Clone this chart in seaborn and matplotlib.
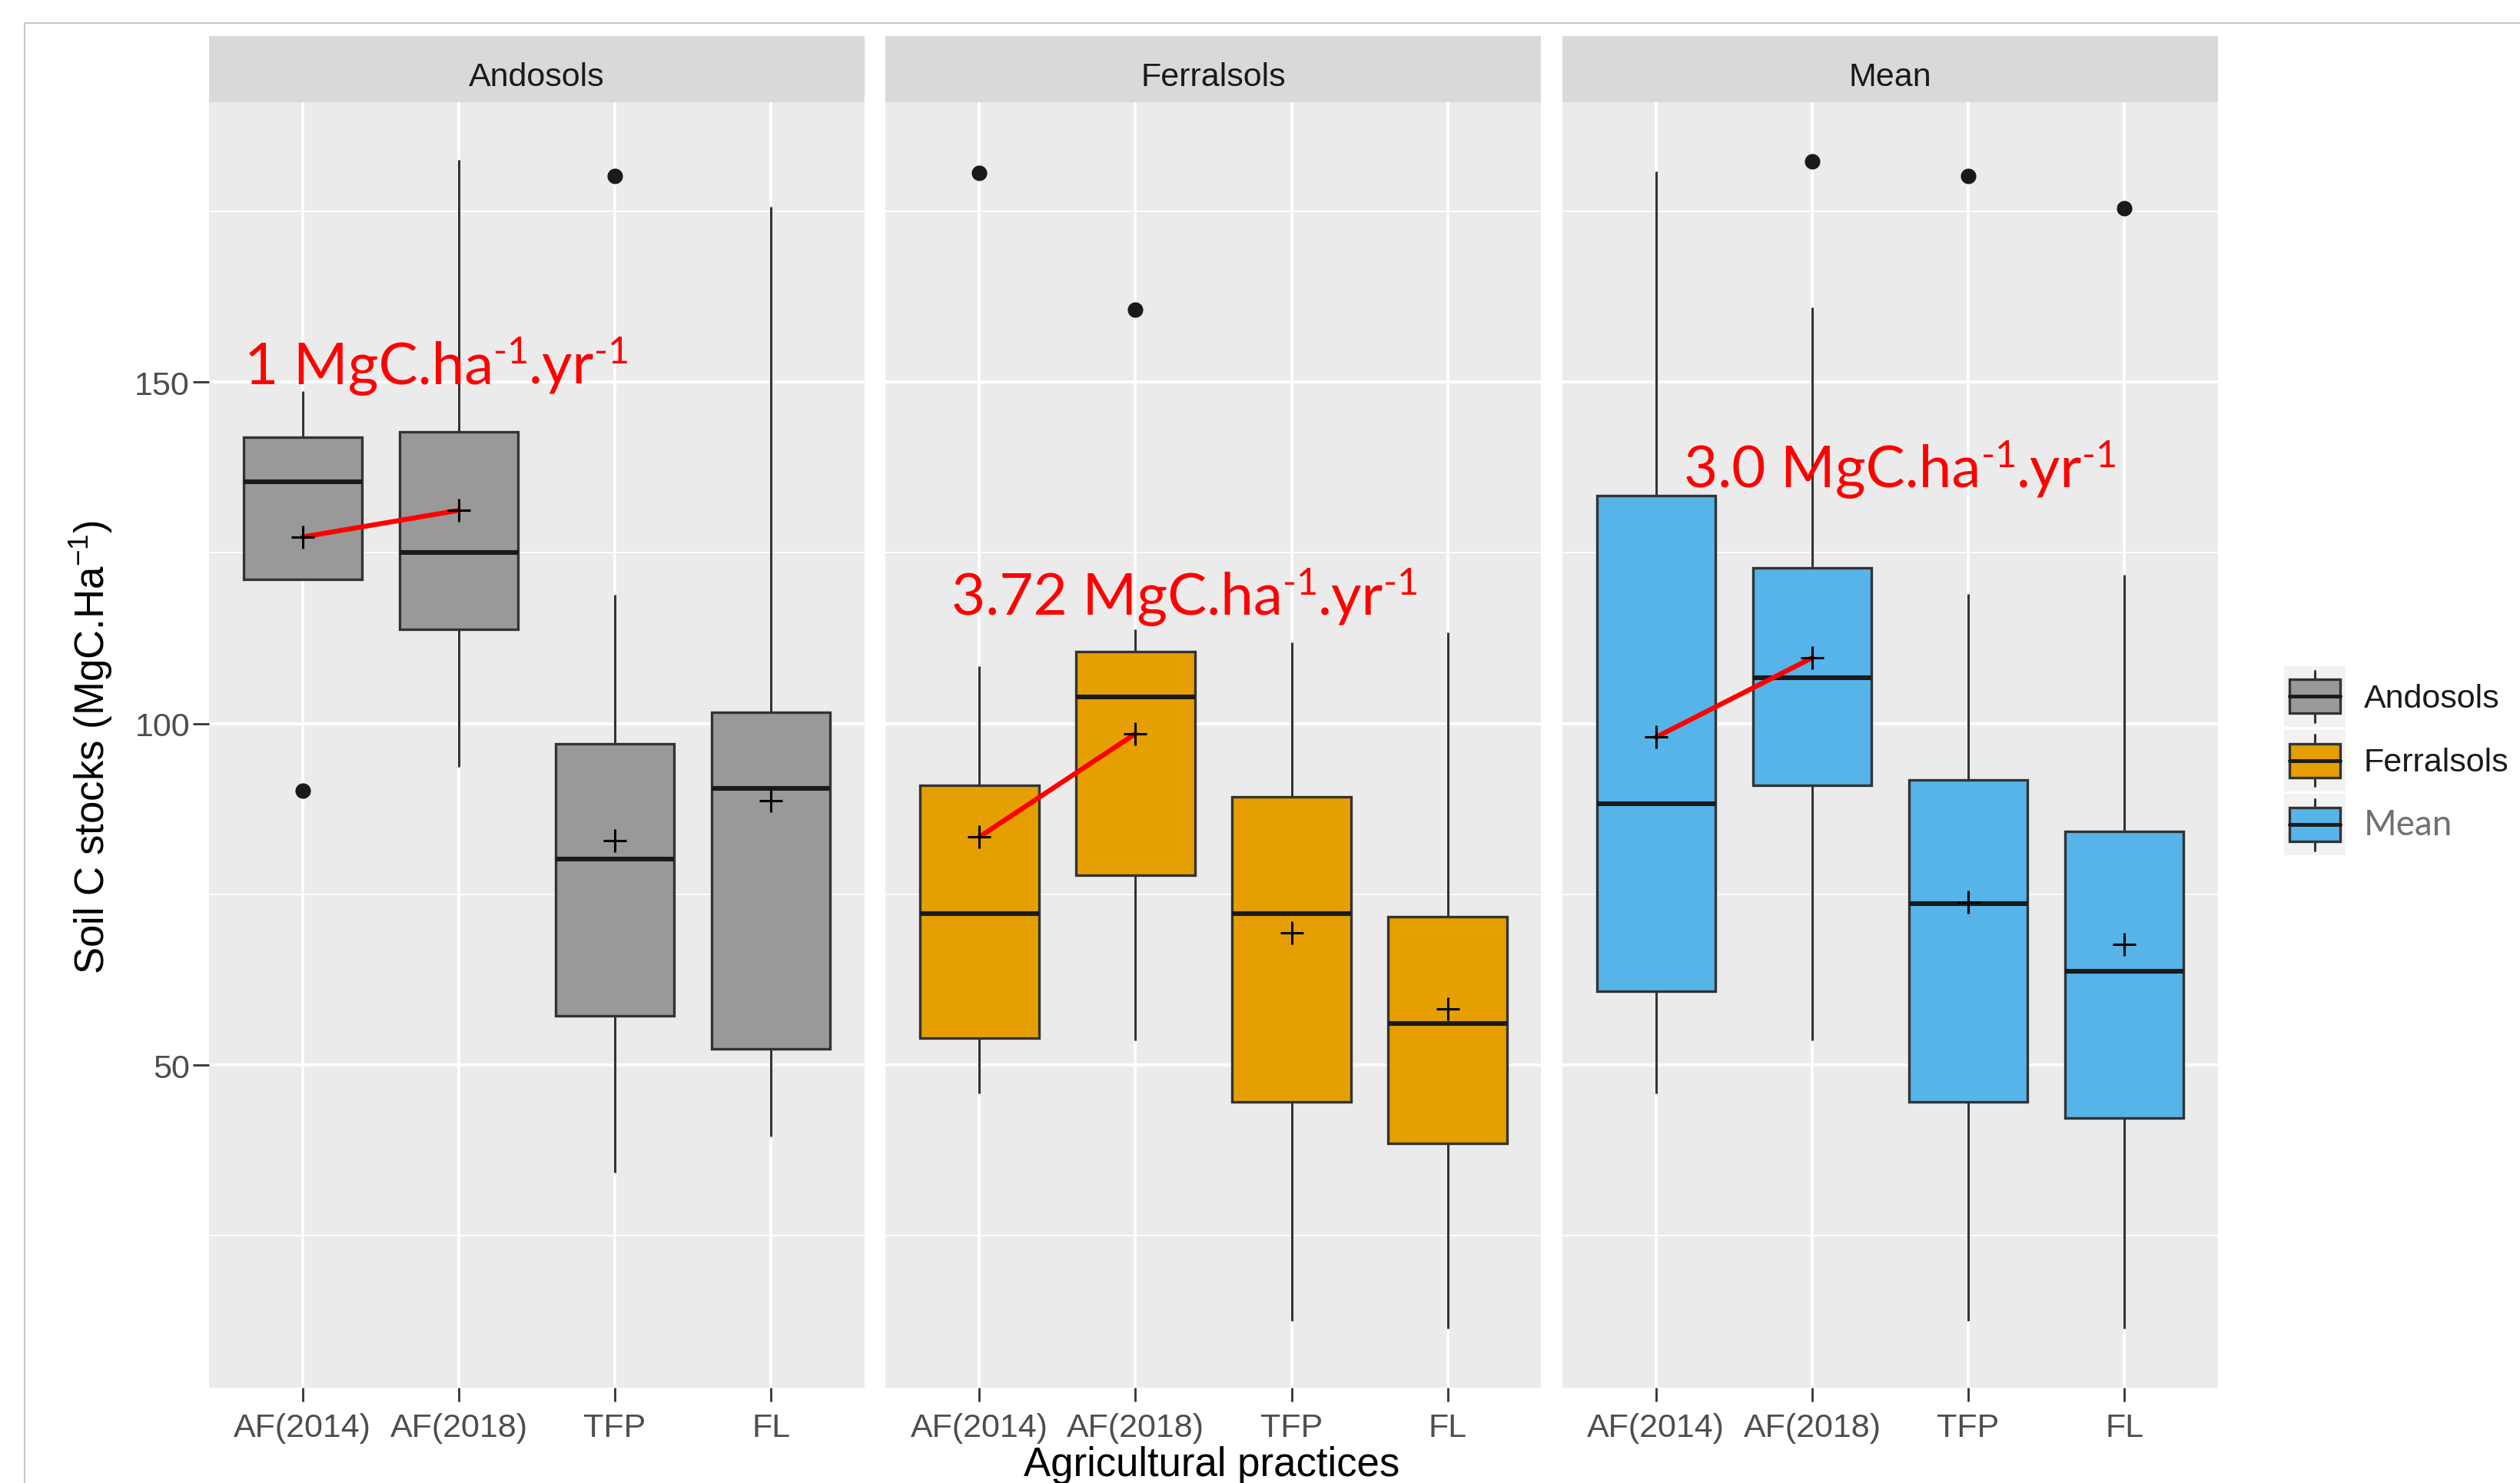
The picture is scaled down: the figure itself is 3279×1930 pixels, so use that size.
import numpy as np
import pandas as pd
import matplotlib
matplotlib.use("Agg")
import matplotlib.pyplot as plt
import seaborn as sns
from matplotlib.patches import Rectangle
from matplotlib.lines import Line2D
from matplotlib.legend_handler import HandlerBase
from matplotlib.ticker import FixedLocator

# ---------------- data ----------------
soils = ["Andosols", "Ferralsols", "Mean"]
practices = ["AF(2014)", "AF(2018)", "TFP", "FL"]
soil_colors = ["#999999", "#E69F00", "#56B4E9"]

whisker_low = [[121.1, 93.6, 34.3, 39.6],
               [45.8, 53.6, 12.6, 11.4],
               [45.8, 53.6, 12.6, 11.4]]
q1 = [[121.1, 113.8, 57.2, 52.4],
      [54.0, 77.8, 44.6, 38.5],
      [60.8, 91.0, 44.6, 42.2]]
median = [[135.4, 125.0, 80.2, 90.5],
          [72.2, 103.9, 72.2, 56.1],
          [88.2, 106.7, 73.6, 63.7]]
q3 = [[141.9, 142.7, 97.0, 101.6],
      [91.0, 110.5, 89.3, 71.7],
      [133.3, 122.8, 91.7, 84.2]]
whisker_high = [[148.6, 182.5, 118.8, 175.7],
                [108.4, 113.8, 111.9, 113.3],
                [180.8, 160.9, 119.0, 121.8]]
means = [[127.3, 131.2, 82.9, 88.7],
         [83.4, 98.5, 69.3, 58.2],
         [98.0, 109.6, 73.8, 67.7]]

outlier_soil = ["Andosols", "Andosols", "Ferralsols", "Ferralsols", "Mean", "Mean", "Mean"]
outlier_practice = ["AF(2014)", "TFP", "AF(2014)", "AF(2018)", "AF(2018)", "TFP", "FL"]
outlier_value = [90.2, 180.2, 180.6, 160.6, 182.3, 180.2, 175.4]

rate_values = ["1", "3.72", "3.0"]
y_ticks = [50, 100, 150]
y_minor = [25, 75, 125, 175]

# ---------------- tables ----------------
box_rows = []
for i, soil in enumerate(soils):
    for j, p in enumerate(practices):
        for v in (whisker_low[i][j], q1[i][j], median[i][j], q3[i][j], whisker_high[i][j]):
            box_rows.append({"soil": soil, "practice": p, "value": v})
box_df = pd.DataFrame(box_rows)
mean_df = pd.DataFrame([{"soil": s, "practice": p, "mean": means[i][j]}
                        for i, s in enumerate(soils) for j, p in enumerate(practices)])
out_df = pd.DataFrame({"soil": outlier_soil, "practice": outlier_practice, "value": outlier_value})

# ---------------- style ----------------
sns.set_theme(style="darkgrid")
plt.rcParams["font.family"] = ["Liberation Sans", "DejaVu Sans"]
plt.rcParams["axes.facecolor"] = "#EBEBEB"
plt.rcParams["grid.color"] = "white"

W, H = 3280, 1931
fig = plt.figure(figsize=(W / 100, H / 100), dpi=100)
fig.patch.set_facecolor("white")

panel_left = [272, 1152.5, 2033]
panel_w = 853
panel_top, panel_bot = 133.5, 1806.7
strip_top = 48
strip_h = (panel_bot - panel_top)
strip_frac = (panel_top - strip_top) / strip_h
text_base = (panel_top - 111.5) / strip_h

# annotation placement (layout only): (x in category units, y in data units)
rate_pos = [(-0.375, 149.8), (-0.18, 116.0), (0.18, 134.7)]
rate_font = 55
sup_font = 35
sup_raise = 19  # points

tick_size = 31
edge = "#333333"

for i, soil in enumerate(soils):
    ax = fig.add_axes([panel_left[i] / W, 1 - panel_bot / H, panel_w / W, strip_h / H])
    ax.set_facecolor("#EBEBEB")
    sub = box_df[box_df["soil"] == soil]
    n_lines = len(ax.lines)
    sns.boxplot(data=sub, x="practice", y="value", order=practices, color=soil_colors[i],
                saturation=1, whis=(0, 100), width=0.76, linecolor=edge, linewidth=2.4,
                showfliers=False, ax=ax,
                medianprops={"color": "#1A1A1A", "linewidth": 4.4},
                whiskerprops={"color": edge, "linewidth": 2.2},
                capprops={"visible": False})
    # enforce ggplot-like line weights on the seaborn box artists
    for p in ax.patches:
        p.set_linewidth(2.4)
        p.set_edgecolor(edge)
    for ln in ax.lines[n_lines:]:
        xd, yd = np.asarray(ln.get_xdata(), float), np.asarray(ln.get_ydata(), float)
        if len(yd) == 2 and yd[0] == yd[1] and xd[0] != xd[1] and ln.get_visible():
            ln.set_linewidth(4.4)
            ln.set_color("#1A1A1A")
        elif len(xd) == 2 and xd[0] == xd[1]:
            ln.set_linewidth(2.2)
            ln.set_color(edge)

    osub = out_df[out_df["soil"] == soil]
    sns.stripplot(data=osub, x="practice", y="value", order=practices, jitter=False,
                  color="#1A1A1A", size=14.5, linewidth=0, ax=ax, zorder=4)
    msub = mean_df[mean_df["soil"] == soil]
    pair = msub[msub["practice"].isin(practices[:2])]
    sns.pointplot(data=pair, x="practice", y="mean", order=practices, color="red",
                  marker="", linewidth=4.6, errorbar=None, ax=ax, zorder=5)
    sns.pointplot(data=msub, x="practice", y="mean", order=practices, color="black",
                  marker="+", linestyle="none", markersize=21, markeredgewidth=2.2,
                  errorbar=None, ax=ax, zorder=6)

    ax.set_xlim(-0.6, len(practices) - 0.4)
    ax.set_ylim(2.8, 191.0)
    ax.set_xticks(range(len(practices)), practices)
    ax.set_yticks(y_ticks)
    ax.yaxis.set_minor_locator(FixedLocator(y_minor))
    ax.grid(True, which="major", axis="both", color="white", linewidth=2.6)
    ax.grid(True, which="minor", axis="y", color="white", linewidth=1.3)
    ax.set_axisbelow(True)
    ax.set_xlabel("")
    ax.set_ylabel("")
    for sp in ax.spines.values():
        sp.set_visible(False)
    ax.tick_params(axis="x", which="major", length=13, width=2, color=edge,
                   labelsize=tick_size, labelcolor="#4D4D4D", pad=10, bottom=True)
    ax.tick_params(axis="y", which="minor", length=0)
    if i == 0:
        ax.tick_params(axis="y", which="major", length=15, width=2, color=edge,
                       labelsize=tick_size, labelcolor="#4D4D4D", pad=3, left=True)
    else:
        ax.tick_params(axis="y", which="major", length=0, labelleft=False)

    # facet strip
    ax.add_patch(Rectangle((0, 1), 1, strip_frac, transform=ax.transAxes,
                           facecolor="#D9D9D9", edgecolor="none", clip_on=False))
    ax.text(0.5, 1 + text_base, soil, transform=ax.transAxes, ha="center",
            va="baseline", fontsize=tick_size, color="#1A1A1A")

    # rate annotation: "<rate> MgC.ha-1.yr-1" with raised "-1"
    rx, ry = rate_pos[i]
    common = dict(color="red", family="Lato", zorder=10, ha="left", va="baseline")
    t1 = ax.text(rx, ry, rate_values[i] + " MgC.ha", fontsize=rate_font, **common)
    t2 = ax.annotate("-1", xy=(1, ry), xycoords=(t1, "data"), xytext=(0, sup_raise),
                     textcoords="offset points", fontsize=sup_font, **common)
    t3 = ax.annotate(".yr", xy=(1, ry), xycoords=(t2, "data"), fontsize=rate_font, **common)
    ax.annotate("-1", xy=(1, ry), xycoords=(t3, "data"), xytext=(0, sup_raise),
                textcoords="offset points", fontsize=sup_font, **common)

# axis titles
fig.text(118.6 / W, 1 - 973 / H, r"Soil C stocks (MgC.Ha$^{\mathregular{-1}}$)",
         rotation=90, ha="center", va="center", fontsize=38, color="black")
fig.text(1577 / W, 1 - 1882 / H, "Agricultural practices", ha="center", va="top",
         fontsize=38, color="black")


# legend with ggplot-like box keys
class BoxKeyHandler(HandlerBase):
    def create_artists(self, legend, orig_handle, xdescent, ydescent, width, height,
                       fontsize, trans):
        x0, y0 = -xdescent, -ydescent
        fc = orig_handle.get_facecolor()
        bg = Rectangle((x0, y0), width, height, facecolor="#F2F2F2", edgecolor="none",
                       transform=trans)
        bw, bh = width * 0.83, height * 0.55
        bx, by = x0 + (width - bw) / 2, y0 + (height - bh) / 2
        cx = x0 + width / 2
        wl = Line2D([cx, cx], [y0 + 0.08 * height, by], color=edge, lw=2.2, transform=trans)
        wh = Line2D([cx, cx], [by + bh, y0 + 0.92 * height], color=edge, lw=2.2, transform=trans)
        box = Rectangle((bx, by), bw, bh, facecolor=fc, edgecolor=edge, lw=2.4, transform=trans)
        med = Line2D([bx, bx + bw], [by + bh / 2] * 2, color="#1A1A1A", lw=3.5, transform=trans)
        return [bg, wl, wh, box, med]


handles = [Rectangle((0, 0), 1, 1, facecolor=c) for c in soil_colors]
leg = fig.legend(handles, soils, loc="upper left", bbox_to_anchor=(2971.7 / W, 1 - 867.5 / H),
                 frameon=False, fontsize=31, handler_map={Rectangle: BoxKeyHandler()},
                 handlelength=1.86, handleheight=2.48, labelspacing=0.08,
                 handletextpad=0.55, borderpad=0, borderaxespad=0)
for t in leg.get_texts():
    t.set_color("#1A1A1A")
mt = leg.get_texts()[2]
mt.set_fontfamily("Lato")
mt.set_color("#707070")
mt.set_fontsize(33)

# screenshot frame lines
fig.add_artist(Line2D([32 / W, 1], [1 - 30.5 / H] * 2, color="#C8C8C8", lw=1.5,
                      transform=fig.transFigure))
fig.add_artist(Line2D([32 / W] * 2, [0, 1 - 30.5 / H], color="#C8C8C8", lw=1.5,
                      transform=fig.transFigure))

fig.savefig("out.png", dpi=100, facecolor="white")
